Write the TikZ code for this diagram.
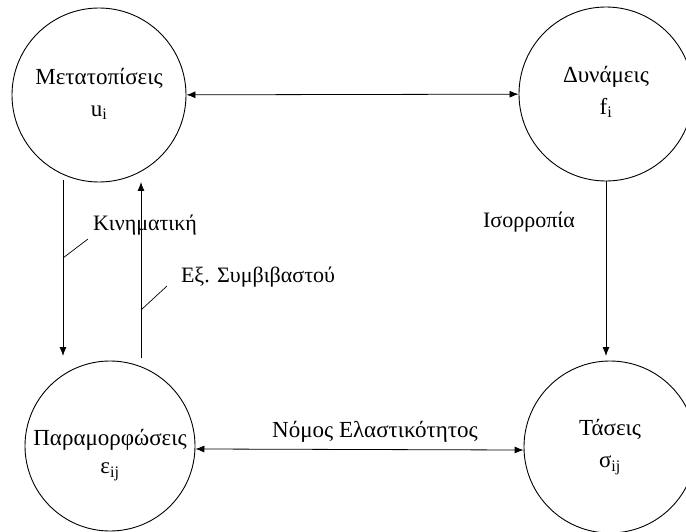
\documentclass[tikz,border=0pt]{standalone}
\usepackage{fontspec}
\setmainfont{Liberation Serif}
\usetikzlibrary{arrows.meta}
\begin{document}
\begin{tikzpicture}[x=1pt,y=-1pt,
  state/.style={draw,circle,line width=0.9pt,minimum size=#1,inner sep=0pt},
  stext/.style={align=center,inner sep=0pt,font=\fontsize{23}{30}\selectfont},
  conn/.style={line width=0.8pt,-{Latex[length=9pt,width=7pt]}},
  both/.style={line width=0.8pt,{Latex[length=9pt,width=7pt]}-{Latex[length=9pt,width=7pt]}},
  lab/.style={font=\fontsize{22}{26}\selectfont,inner sep=0pt},
  tick/.style={line width=0.7pt}]
\useasboundingbox (0,0) rectangle (686,532);
\node[state=174pt] (tl) at (99,95) {};
\node[state=174pt] (tr) at (606,94) {};
\node[state=170pt] (bl) at (110,446) {};
\node[state=172pt] (br) at (610,447) {};
\node[stext] (tlt) at ([yshift=1pt]tl.center) {Μετατοπίσεις\\[2pt]u\textsubscript{i}};
\node[stext] (trt) at ([yshift=2pt]tr.center) {Δυνάμεις\\[2pt]f\textsubscript{i}};
\node[stext] (blt) at ([yshift=-9pt]bl.center) {Παραμορφώσεις\\[-2pt]ε\textsubscript{ij}};
\node[stext] (brt) at (br.center) {Τάσεις\\[2pt]σ\textsubscript{ij}};
% vertical connector end points
\coordinate (kA) at (63,180);
\coordinate (kB) at (63,356);
\coordinate (cA) at (141,358);
\coordinate (cB) at (141,182);
\coordinate (eA) at (606,181);
\coordinate (eB) at (606,356);
\draw[both] (tl) -- (tr);
\draw[both] (bl.-2) -- (br.182);
\draw[conn] (kA) -- (kB);
\draw[conn] (cA) -- (cB);
\draw[conn] (eA) -- (eB);
% labels
\node[lab] (kin) at (145,225) {Κινηματική};
\node[lab] (comp) at (258,277) {Εξ. Συμβιβαστού};
\node[lab] (eq) at (529,222) {Ισορροπία};
\node[lab,font=\fontsize{23}{27}\selectfont] (el) at (375,432) {Νόμος Ελαστικότητος};
\coordinate (t1a) at (63,258);
\coordinate (t1b) at (88,239);
\coordinate (t2a) at (141,310);
\coordinate (t2b) at (167,286);
\draw[tick] (t1a) -- (t1b);
\draw[tick] (t2a) -- (t2b);
\end{tikzpicture}
\end{document}
